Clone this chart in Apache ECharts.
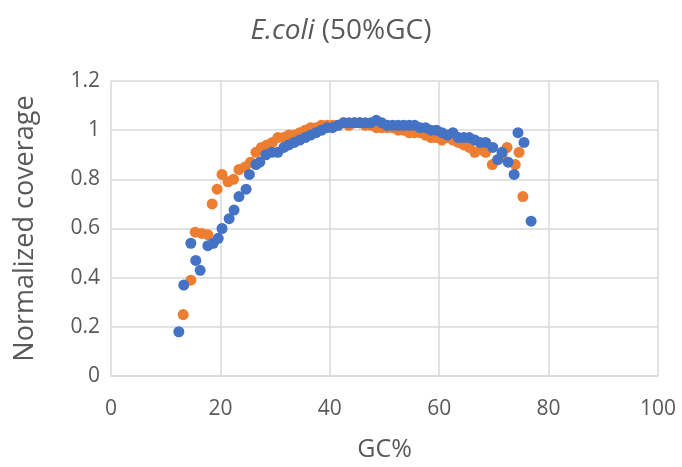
<!DOCTYPE html>
<html>
<head>
<meta charset="utf-8">
<script src="https://cdn.jsdelivr.net/npm/echarts@6/dist/echarts.min.js"></script>
<style>
  html, body { margin: 0; padding: 0; background: #fff; }
  #chart { width: 682px; height: 467px; }
</style>
</head>
<body>
<div id="chart"></div>
<script>
// GC% 与归一化覆盖度（两组测序数据）
const gcOrange = [13.2, 14.6, 15.4, 16.6, 17.7, 18.5, 19.4, 20.3, 21.4, 22.4, 23.4, 24.5, 25.5, 26.5, 27.5, 28.5, 29.5, 30.5, 31.5, 32.5, 33.5, 34.5, 35.5, 36.5, 37.5, 38.5, 39.5, 40.5, 41.5, 42.5, 43.5, 44.5, 45.5, 46.5, 47.5, 48.5, 49.5, 50.5, 51.5, 52.5, 53.5, 54.5, 55.5, 56.5, 57.5, 58.5, 59.5, 60.5, 61.5, 62.5, 63.5, 64.5, 65.5, 66.5, 67.5, 68.5, 69.7, 70.7, 71.5, 72.4, 73.9, 74.6, 75.3];
const covOrange = [0.25, 0.39, 0.585, 0.58, 0.575, 0.70, 0.76, 0.82, 0.79, 0.80, 0.84, 0.85, 0.87, 0.91, 0.93, 0.94, 0.95, 0.97, 0.97, 0.98, 0.98, 0.99, 1.00, 1.01, 1.01, 1.02, 1.02, 1.02, 1.02, 1.03, 1.02, 1.03, 1.03, 1.02, 1.02, 1.01, 1.01, 1.01, 1.01, 1.00, 1.00, 0.99, 0.99, 0.99, 0.98, 0.97, 0.97, 0.96, 0.97, 0.96, 0.95, 0.94, 0.93, 0.91, 0.92, 0.91, 0.86, 0.88, 0.90, 0.93, 0.86, 0.91, 0.73];

const gcBlue = [12.4, 13.3, 14.6, 15.5, 16.3, 17.7, 18.7, 19.6, 20.3, 21.6, 22.5, 23.4, 24.7, 25.3, 26.5, 27.2, 28.3, 29.4, 30.5, 31.6, 32.5, 33.5, 34.5, 35.5, 36.5, 37.5, 38.5, 39.5, 40.5, 41.5, 42.5, 43.5, 44.5, 45.5, 46.5, 47.5, 48.5, 49.5, 50.5, 51.5, 52.5, 53.5, 54.5, 55.5, 56.5, 57.5, 58.5, 59.5, 60.5, 61.5, 62.5, 63.5, 64.5, 65.5, 66.5, 67.5, 68.5, 69.8, 70.7, 71.5, 72.6, 73.7, 74.4, 75.5, 76.8];
const covBlue = [0.18, 0.37, 0.54, 0.47, 0.43, 0.53, 0.54, 0.56, 0.60, 0.64, 0.675, 0.73, 0.76, 0.82, 0.86, 0.87, 0.90, 0.91, 0.91, 0.93, 0.94, 0.95, 0.96, 0.97, 0.98, 0.99, 1.00, 1.01, 1.01, 1.02, 1.03, 1.03, 1.03, 1.03, 1.03, 1.03, 1.04, 1.03, 1.02, 1.02, 1.02, 1.02, 1.02, 1.02, 1.01, 1.01, 1.00, 1.00, 0.99, 0.98, 0.99, 0.97, 0.97, 0.97, 0.96, 0.95, 0.95, 0.93, 0.88, 0.91, 0.87, 0.82, 0.99, 0.95, 0.63];

const pair = (xs, ys) => xs.map((x, i) => [x, ys[i]]);

const chart = echarts.init(document.getElementById('chart'));
const font = 'Open Sans';
const grey = '#595959';

chart.setOption({
    animation: false,
    title: {
        text: '{i|E.coli} (50%GC)',
        left: 'center',
        top: 12,
        textStyle: {
            fontFamily: font,
            fontSize: 28,
            fontWeight: 'normal',
            color: grey,
            rich: {
                i: { fontFamily: font, fontSize: 28, fontStyle: 'italic', color: grey }
            }
        }
    },
    grid: { left: 111, right: 24, top: 81, bottom: 89 },
    xAxis: {
        type: 'value',
        min: 0, max: 100, interval: 20,
        name: 'GC%',
        nameLocation: 'middle',
        nameGap: 61,
        nameTextStyle: { fontFamily: font, fontSize: 25, color: grey },
        axisLine: { show: true, lineStyle: { color: '#d9d9d9', width: 1.5 } },
        axisTick: { show: false },
        axisLabel: { fontFamily: font, fontSize: 21, color: grey, margin: 23 },
        splitLine: { show: true, lineStyle: { color: '#d9d9d9', width: 1.5 } }
    },
    yAxis: {
        type: 'value',
        min: 0, max: 1.2, interval: 0.2,
        name: 'Normalized coverage',
        nameLocation: 'middle',
        nameGap: 72,
        nameTextStyle: { fontFamily: font, fontSize: 27, color: grey },
        axisLine: { show: false },
        axisTick: { show: false },
        axisLabel: { fontFamily: font, fontSize: 21, color: grey, margin: 11 },
        splitLine: { show: true, lineStyle: { color: '#d9d9d9', width: 1.5 } }
    },
    series: [
        {
            type: 'scatter',
            data: pair(gcOrange, covOrange),
            symbolSize: 11,
            itemStyle: { color: '#ED7D31', opacity: 1 }
        },
        {
            type: 'scatter',
            data: pair(gcBlue, covBlue),
            symbolSize: 11,
            itemStyle: { color: '#4472C4', opacity: 1 }
        }
    ]
});
</script>
</body>
</html>
